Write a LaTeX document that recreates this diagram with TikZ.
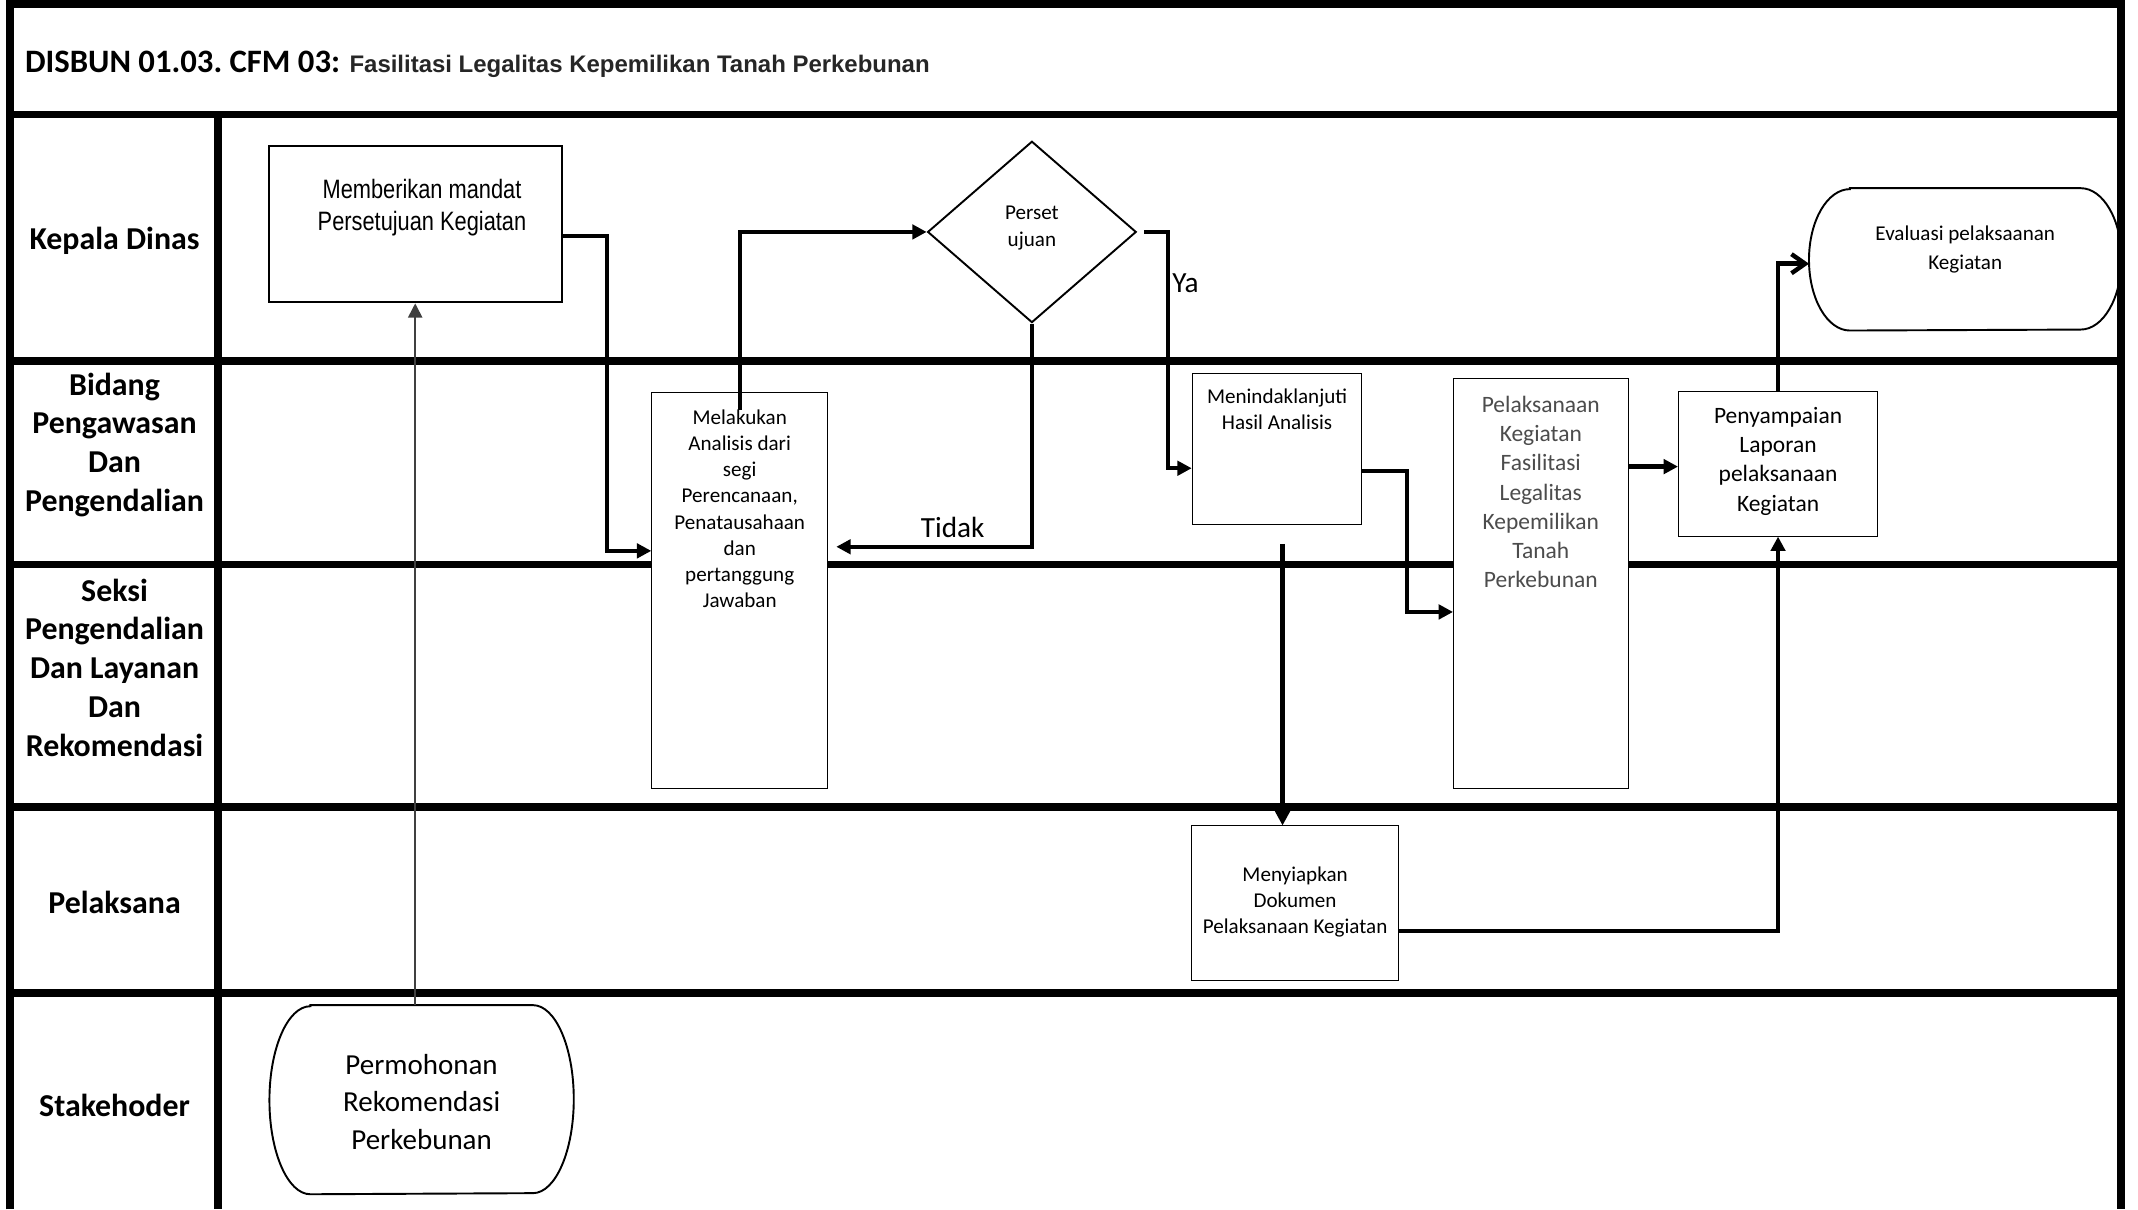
\documentclass[tikz,border=0pt]{standalone}
\usepackage{fontspec}
\setmainfont{Carlito}
\newfontfamily\arialfont{Liberation Sans}
\newfontfamily\narrowfont[FakeStretch=0.82]{Liberation Sans}
\usetikzlibrary{arrows.meta, shapes.geometric}
\frenchspacing
\newcommand{\toptxt}[4]{\parbox[c][#2][t]{#1}{\centering\vspace*{#3}\strut#4}}
\newcommand{\stadium}[2]{\draw[thick] ([xshift=6mm]#1.north west) -- ([xshift=-6mm]#1.north east) arc[start angle=-90, end angle=90, x radius=30, y radius=#2] -- ([xshift=6mm]#1.south west) arc[start angle=90, end angle=270, x radius=30, y radius=#2] -- cycle;}

\begin{document}
\begin{tikzpicture}[yscale=-1, x=0.2mm, y=0.2mm, >={Triangle[length=2.1mm, width=2.1mm]},
    lane/.style={line width=1.15mm},
    lanename/.style={align=center, font=\fontsize{13.3}{16.2}\selectfont\bfseries},
    proc/.style={draw, fill=white, inner sep=0pt, font=\fontsize{8.8}{10.9}\selectfont},
    bigproc/.style={proc, font=\fontsize{9.8}{12.2}\selectfont},
    term/.style={inner sep=0pt},
    flow/.style={->, line width=0.65mm},
    lbl/.style={font=\fontsize{12.2}{14.6}\selectfont}]
    \useasboundingbox (0,0) rectangle (1568,887);

    \draw[lane] (7.5,887) -- (7.5,3) -- (1555.5,3) -- (1555.5,887);
    \draw[lane] (160,84) -- (160,887);
    \foreach \y in {84,265,414,592,728}
        \draw[lane] (7.5,\y) -- (1555.5,\y);

    \node[anchor=base west, inner sep=0pt, font=\fontsize{13.65}{16}\selectfont\bfseries] (ttl) at (18,53) {DISBUN 01.03. CFM 03:};
    \node[anchor=base west, inner sep=0pt, text=black!85, font=\arialfont\fontsize{10}{12}\selectfont\bfseries] (ttlsub) at (256,53) {Fasilitasi Legalitas Kepemilikan Tanah Perkebunan};

    \node[lanename] (kadis) at (84,176.5) {Kepala Dinas};
    \node[lanename] (bidang) at (84,326.2) {Bidang\\Pengawasan\\Dan\\Pengendalian};
    \node[lanename] (seksi) at (84,489.6) {Seksi\\Pengendalian\\Dan Layanan\\Dan\\Rekomendasi};
    \node[lanename] (pelaks) at (84,661.8) {Pelaksana};
    \node[lanename] (stake) at (84,810.6) {Stakehoder};

    \node[proc, thick, font=\narrowfont\fontsize{11.1}{13.2}\selectfont] (memb) at (304.5,164.3) {\toptxt{43mm}{23mm}{4.5mm}{\hspace*{2mm}Memberikan mandat\\\hspace*{2mm}Persetujuan Kegiatan}};
    \node[proc] (anal) at (542.5,433.3) {\toptxt{25.8mm}{58.1mm}{1.98mm}{Melakukan\\Analisis dari\\segi\\Perencanaan,\\Penatausahaan\\dan\\pertanggung\\Jawaban}};
    \node[proc, thick, diamond, minimum width=30.6mm, minimum height=26.6mm, font=\fontsize{8.8}{11.15}\selectfont] (dec) at (756.8,170.1) {\toptxt{12mm}{12mm}{1.46mm}{Perset\\ujuan}};
    \node[proc] (tind) at (936.6,329.5) {\toptxt{24.9mm}{22.1mm}{1.6mm}{Menindaklanjuti\\Hasil Analisis}};
    \node[bigproc, text=black!70] (pelk) at (1130,427.8) {\toptxt{25.6mm}{60.2mm}{2.02mm}{Pelaksanaan\\Kegiatan\\Fasilitasi\\Legalitas\\Kepemilikan\\Tanah\\Perkebunan}};
    \node[bigproc] (peny) at (1304,340.1) {\toptxt{29.2mm}{21.24mm}{1.7mm}{Penyampaian\\Laporan\\pelaksanaan\\Kegiatan}};
    \node[proc] (menyi) at (949.8,662.5) {\toptxt{30.4mm}{22.7mm}{5.48mm}{Menyiapkan\\Dokumen\\Pelaksanaan Kegiatan}};
    \node[term, font=\fontsize{8.8}{11.8}\selectfont] (eval) at (1441.3,190.2) {\toptxt{45.7mm}{20.74mm}{4.74mm}{Evaluasi pelaksaanan\\Kegiatan}};
    \stadium{eval}{51.85}
    \node[term, font=\fontsize{12.1}{15.6}\selectfont] (perm) at (309.2,806.5) {\toptxt{44.5mm}{27.6mm}{6.24mm}{Permohonan\\Rekomendasi\\Perkebunan}};
    \stadium{perm}{68.95}

    \draw[->, line width=0.25mm, black!75] (memb.south |- perm.north) -- (memb.south);
    \draw[flow] (memb.east |- 0,173) -| (445,404) -- (anal.west |- 0,404);
    \draw[flow] (anal.north |- 0,301) |- (dec.west);
    \draw[flow] (dec.south) |- ([xshift=1.2mm]anal.east |- 0,401);
    \draw[flow] ([xshift=1mm]dec.east) -| (856.4,343.4) -- (tind.west |- 0,343.4);
    \draw[flow] (tind.east |- 0,345.5) -| (1031.7,448.8) -- (pelk.west |- 0,448.8);
    \coordinate (tindout) at (940.6,398.8);
    \draw[flow] (tindout) -- (tindout |- menyi.north);
    \draw[flow] (menyi.east |- 0,682.6) -| (peny.south);
    \draw[flow] (pelk.east |- 0,342.2) -- (peny.west |- 0,342.2);
    \draw[line width=0.65mm, -{Straight Barb[length=2mm, width=2.8mm]}] (peny.north) |- (eval.west |- 0,193.4);

    \node[lbl] (tidak) at (698.7,386.6) {Tidak};
    \node[lbl] (ya) at (869.4,207.5) {Ya};
\end{tikzpicture}
\end{document}
